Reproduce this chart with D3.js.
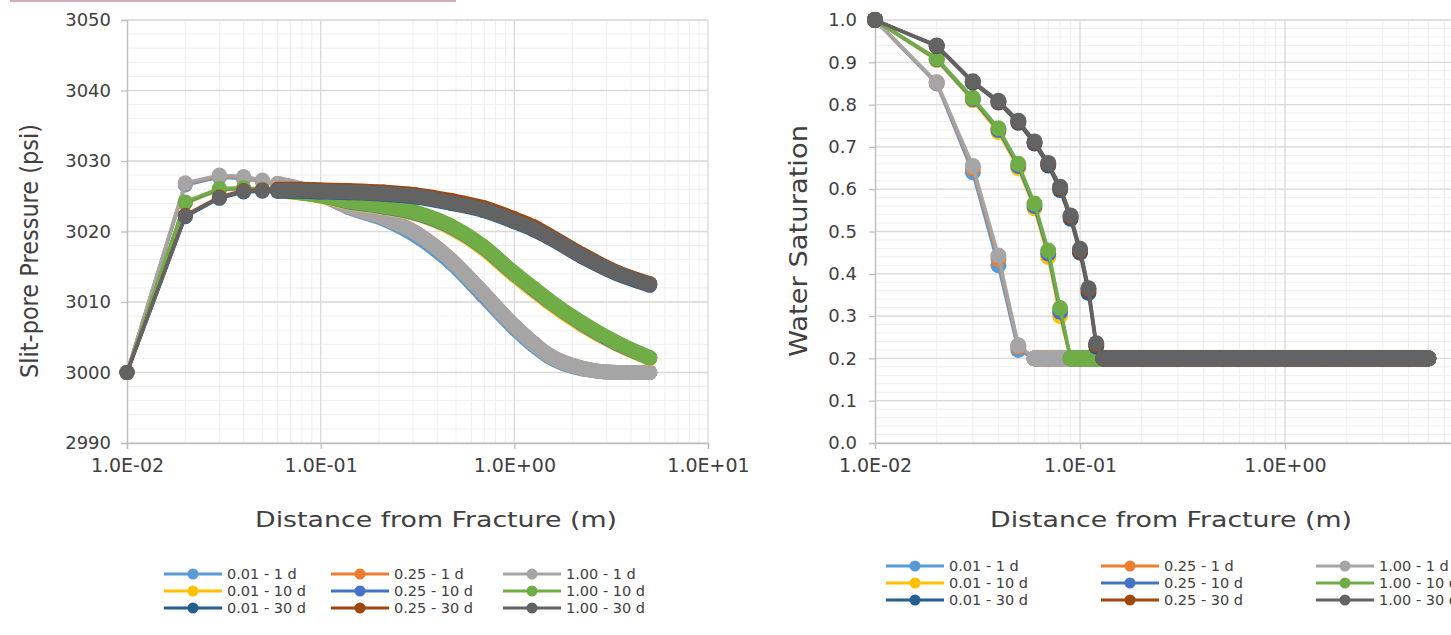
<!DOCTYPE html>
<html><head><meta charset="utf-8">
<script src="https://cdn.jsdelivr.net/npm/d3@7"></script>
<style>
html,body{margin:0;padding:0;background:#fff;overflow:hidden}
svg{display:block;font-family:"DejaVu Sans",sans-serif}
</style></head>
<body><svg id="c" width="1451" height="635"></svg>
<script>
// ---------- DATA ----------
const seriesNames = ["0.01 - 1 d","0.25 - 1 d","1.00 - 1 d","0.01 - 10 d","0.25 - 10 d","1.00 - 10 d","0.01 - 30 d","0.25 - 30 d","1.00 - 30 d"];
const seriesColors = ["#5B9BD5","#ED7D31","#A5A5A5","#FFC000","#4472C4","#70AD47","#255E91","#9E480E","#636363"];
const xTickValues = [0.01, 0.1, 1, 10];
const xTickLabels = ["1.0E-02","1.0E-01","1.0E+00","1.0E+01"];

// Left chart: slit-pore pressure (psi)
const pressureX = [0.01,0.02,0.03,0.04,0.05,0.06,0.07,0.08,0.1,0.14,0.21,0.31,0.47,0.69,1.0,1.25,1.5,2.25,3.4,5.0];
const p_001_1d  = [3000,3026.6,3027.7,3027.5,3027.1,3026.7,3026.3,3025.9,3025.2,3023.4,3021.8,3019.4,3015.6,3010.9,3006.3,3003.9,3002.3,3000.5,3000.0,3000.0];
const p_025_1d  = [3000,3026.8,3027.9,3027.7,3027.2,3026.8,3026.4,3026.0,3025.3,3023.5,3022.0,3019.8,3016.0,3011.3,3006.6,3004.2,3002.5,3000.6,3000.0,3000.0];
const p_100_1d  = [3000,3026.9,3028.0,3027.8,3027.3,3026.8,3026.4,3026.0,3025.3,3023.5,3022.0,3019.8,3016.0,3011.3,3006.6,3004.2,3002.5,3000.6,3000.0,3000.0];
const p_001_10d = [3000,3024.0,3025.9,3026.0,3025.9,3025.8,3025.6,3025.4,3025.0,3024.1,3023.4,3022.5,3020.5,3017.6,3013.8,3011.7,3010.0,3006.7,3004.0,3002.0];
const p_025_10d = [3000,3024.1,3026.0,3026.1,3026.0,3025.9,3025.7,3025.5,3025.1,3024.2,3023.5,3022.6,3020.7,3017.8,3014.0,3011.9,3010.2,3006.9,3004.1,3002.1];
const p_100_10d = [3000,3024.2,3026.1,3026.2,3026.0,3025.9,3025.7,3025.5,3025.1,3024.3,3023.6,3022.7,3020.8,3017.9,3014.1,3012.0,3010.3,3007.0,3004.2,3002.1];
const p_001_30d = [3000,3022.1,3024.7,3025.6,3025.7,3025.7,3025.7,3025.7,3025.6,3025.5,3025.3,3024.9,3024.0,3023.0,3021.4,3020.3,3019.2,3016.4,3014.0,3012.4];
const p_025_30d = [3000,3022.3,3024.9,3025.8,3025.9,3026.0,3026.0,3026.0,3025.9,3025.8,3025.6,3025.2,3024.4,3023.4,3021.8,3020.7,3019.5,3016.7,3014.2,3012.6];
const p_100_30d = [3000,3022.2,3024.8,3025.7,3025.8,3025.8,3025.8,3025.8,3025.7,3025.6,3025.4,3025.0,3024.1,3023.1,3021.5,3020.4,3019.3,3016.5,3014.1,3012.5];
const pressureYTicks = [2990,3000,3010,3020,3030,3040,3050];
const pressureYLabels = ["2990","3000","3010","3020","3030","3040","3050"];

// Right chart: water saturation
const satX = [0.01,0.02,0.03,0.04,0.05,0.06,0.07,0.08,0.09,0.1,0.11,0.12,0.13,0.2,0.3,0.5,0.7,1.0,1.5,2.0,3.0,4.0,5.0];
const s_001_1d  = [1.0,0.850,0.640,0.420,0.220,0.2,0.2,0.2,0.2,0.2,0.2,0.2,0.2,0.2,0.2,0.2,0.2,0.2,0.2,0.2,0.2,0.2,0.2];
const s_025_1d  = [1.0,0.852,0.650,0.435,0.228,0.2,0.2,0.2,0.2,0.2,0.2,0.2,0.2,0.2,0.2,0.2,0.2,0.2,0.2,0.2,0.2,0.2,0.2];
const s_100_1d  = [1.0,0.853,0.655,0.443,0.231,0.2,0.2,0.2,0.2,0.2,0.2,0.2,0.2,0.2,0.2,0.2,0.2,0.2,0.2,0.2,0.2,0.2,0.2];
const s_001_10d = [1.0,0.905,0.810,0.735,0.650,0.555,0.440,0.300,0.2,0.2,0.2,0.2,0.2,0.2,0.2,0.2,0.2,0.2,0.2,0.2,0.2,0.2,0.2];
const s_025_10d = [1.0,0.907,0.813,0.740,0.655,0.560,0.448,0.310,0.2,0.2,0.2,0.2,0.2,0.2,0.2,0.2,0.2,0.2,0.2,0.2,0.2,0.2,0.2];
const s_100_10d = [1.0,0.909,0.816,0.744,0.660,0.566,0.455,0.319,0.2,0.2,0.2,0.2,0.2,0.2,0.2,0.2,0.2,0.2,0.2,0.2,0.2,0.2,0.2];
const s_001_30d = [1.0,0.938,0.852,0.805,0.757,0.708,0.656,0.598,0.530,0.450,0.355,0.228,0.2,0.2,0.2,0.2,0.2,0.2,0.2,0.2,0.2,0.2,0.2];
const s_025_30d = [1.0,0.939,0.854,0.807,0.760,0.711,0.660,0.603,0.535,0.455,0.362,0.232,0.2,0.2,0.2,0.2,0.2,0.2,0.2,0.2,0.2,0.2,0.2];
const s_100_30d = [1.0,0.940,0.855,0.809,0.762,0.713,0.662,0.606,0.538,0.459,0.366,0.236,0.2,0.2,0.2,0.2,0.2,0.2,0.2,0.2,0.2,0.2,0.2];
const satYTicks = [0,0.1,0.2,0.3,0.4,0.5,0.6,0.7,0.8,0.9,1.0];
const satYLabels = ["0.0","0.1","0.2","0.3","0.4","0.5","0.6","0.7","0.8","0.9","1.0"];

// ---------- DRAW ----------
const svg = d3.select("#c");
const TXT = "#404040";

// cut caption rule at top
svg.append("line").attr("x1",10).attr("x2",456).attr("y1",1).attr("y2",1)
  .attr("stroke","#d8a9b8").attr("stroke-width",2);

function drawChart(cfg){
  const g = svg.append("g");
  const x = d3.scaleLog().domain([0.01,10]).range([cfg.x0,cfg.x1]);
  const y = d3.scaleLinear().domain(cfg.yDomain).range([443,20]);

  // gridlines
  const grid = g.append("g");
  const minorY = d3.range(cfg.yDomain[0], cfg.yDomain[1]+cfg.minorStep/2, cfg.minorStep);
  grid.selectAll("line.hm").data(minorY).join("line")
    .attr("x1",cfg.x0).attr("x2",cfg.x1).attr("y1",d=>y(d)).attr("y2",d=>y(d))
    .attr("stroke","#eeeeee").attr("stroke-width",1);
  grid.selectAll("line.vm").data(x.ticks().filter(v=>Math.abs(Math.log10(v)-Math.round(Math.log10(v)))>1e-6)).join("line")
    .attr("x1",d=>x(d)).attr("x2",d=>x(d)).attr("y1",20).attr("y2",443)
    .attr("stroke","#eeeeee").attr("stroke-width",1);
  grid.selectAll("line.hM").data(cfg.yTicks).join("line")
    .attr("x1",cfg.x0).attr("x2",cfg.x1).attr("y1",d=>y(d)).attr("y2",d=>y(d))
    .attr("stroke","#d9d9d9").attr("stroke-width",1.3);
  grid.selectAll("line.vM").data(xTickValues.slice(1)).join("line")
    .attr("x1",d=>x(d)).attr("x2",d=>x(d)).attr("y1",20).attr("y2",443)
    .attr("stroke","#d9d9d9").attr("stroke-width",1.3);

  // axes
  const ya = g.append("g").attr("transform",`translate(${cfg.x0},0)`)
    .call(d3.axisLeft(y).tickValues(cfg.yTicks).tickSize(6).tickPadding(cfg.yPad)
      .tickFormat((d,i)=>cfg.yLabels[i]));
  const xa = g.append("g").attr("transform","translate(0,443)")
    .call(d3.axisBottom(x).tickValues(xTickValues).tickSize(6).tickPadding(10)
      .tickFormat((d,i)=>xTickLabels[i]));
  [ya,xa].forEach(a=>{
    a.select(".domain").attr("stroke","#bfbfbf").attr("stroke-width",1.5);
    a.selectAll(".tick line").attr("stroke","#bfbfbf").attr("stroke-width",1.3);
    a.selectAll("text").attr("fill",TXT).attr("font-family","DejaVu Sans");
  });
  ya.selectAll("text").attr("font-size",18);
  xa.selectAll("text").attr("font-size",19);

  // series
  const line = d3.line().x(d=>x(d[0])).y(d=>y(d[1]));
  const band = d3.line().x(d=>x(d[0])).y(d=>y(d[1])).curve(d3.curveMonotoneX);
  cfg.series.forEach((vals,si)=>{
    const col = seriesColors[si];
    const pts = cfg.xs.map((xv,i)=>[xv, vals[i]]);
    const sg = g.append("g");
    sg.append("path").attr("d",line(pts)).attr("fill","none").attr("stroke",col)
      .attr("stroke-width",3.4).attr("stroke-linejoin","round");
    const start = cfg.bandStart(pts);
    sg.append("path").attr("d",band(pts.slice(start))).attr("fill","none").attr("stroke",col)
      .attr("stroke-width",2*cfg.r).attr("stroke-linecap","round").attr("stroke-linejoin","round");
    sg.selectAll("circle").data(pts).join("circle")
      .attr("cx",d=>x(d[0])).attr("cy",d=>y(d[1])).attr("r",cfg.r).attr("fill",col);
  });

  // titles
  g.append("text").attr("x",cfg.xTitleX).attr("y",527).attr("text-anchor","middle")
    .attr("font-size",22).attr("fill",TXT).attr("textLength",362).attr("lengthAdjust","spacingAndGlyphs")
    .text("Distance from Fracture (m)");
  g.append("text").attr("transform",`translate(${cfg.yTitleX},${cfg.yTitleY}) rotate(-90)`)
    .attr("text-anchor","middle").attr("font-size",24).attr("fill",TXT)
    .attr("textLength",cfg.yTitleLen).attr("lengthAdjust","spacingAndGlyphs")
    .text(cfg.yTitle);

  // legend
  const lg = g.append("g");
  const order = [[0,1,2],[3,4,5],[6,7,8]];
  order.forEach((row,ri)=>row.forEach((si,ci)=>{
    const lx = cfg.legX[ci], ly = cfg.legY + ri*17;
    lg.append("line").attr("x1",lx).attr("x2",lx+58).attr("y1",ly).attr("y2",ly)
      .attr("stroke",seriesColors[si]).attr("stroke-width",3.2);
    lg.append("circle").attr("cx",lx+29).attr("cy",ly).attr("r",5.5).attr("fill",seriesColors[si]);
    lg.append("text").attr("x",lx+63).attr("y",ly+5).attr("font-size",14.5).attr("fill",TXT)
      .text(seriesNames[si]);
  }));
}

drawChart({
  x0:127, x1:708, yDomain:[2990,3050], yTicks:pressureYTicks, yLabels:pressureYLabels,
  minorStep:2, yPad:10, r:7.5,
  xs:pressureX,
  series:[p_001_1d,p_025_1d,p_100_1d,p_001_10d,p_025_10d,p_100_10d,p_001_30d,p_025_30d,p_100_30d],
  bandStart: pts => pts.findIndex(p=>p[0]>=0.06),
  xTitleX:436, yTitleX:38, yTitleY:251, yTitleLen:254, yTitle:"Slit-pore Pressure (psi)",
  legX:[164,331,503], legY:574
});
drawChart({
  x0:875, x1:1490, yDomain:[0,1], yTicks:satYTicks, yLabels:satYLabels,
  minorStep:0.02, yPad:12, r:8,
  xs:satX,
  series:[s_001_1d,s_025_1d,s_100_1d,s_001_10d,s_025_10d,s_100_10d,s_001_30d,s_025_30d,s_100_30d],
  bandStart: pts => { let i=pts.length-1; const last=pts[i][1]; while(i>0 && pts[i-1][1]===last) i--; return i; },
  xTitleX:1171, yTitleX:807, yTitleY:241, yTitleLen:232, yTitle:"Water Saturation",
  legX:[886,1101,1316], legY:566
});
</script></body></html>
